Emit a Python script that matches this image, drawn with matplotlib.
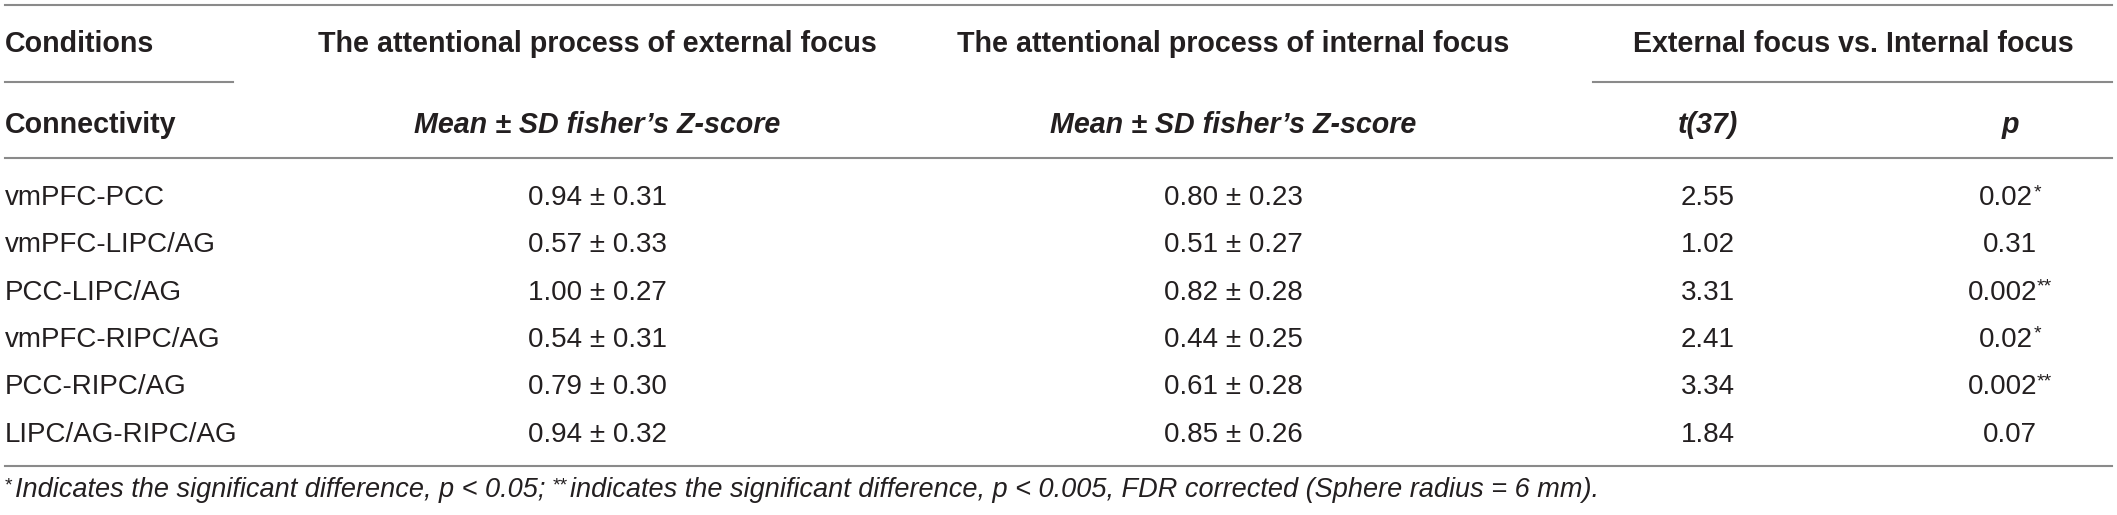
import matplotlib
matplotlib.use("Agg")
import matplotlib.pyplot as plt

# ---- data ----
connectivity = ["vmPFC-PCC", "vmPFC-LIPC/AG", "PCC-LIPC/AG",
                "vmPFC-RIPC/AG", "PCC-RIPC/AG", "LIPC/AG-RIPC/AG"]
ext_mean = [0.94, 0.57, 1.00, 0.54, 0.79, 0.94]
ext_sd = [0.31, 0.33, 0.27, 0.31, 0.30, 0.32]
int_mean = [0.80, 0.51, 0.82, 0.44, 0.61, 0.85]
int_sd = [0.23, 0.27, 0.28, 0.25, 0.28, 0.26]
t_vals = [2.55, 1.02, 3.31, 2.41, 3.34, 1.84]
p_vals = ["0.02", "0.31", "0.002", "0.02", "0.002", "0.07"]
p_stars = ["*", "", "**", "*", "**", ""]

header1 = ["Conditions", "The attentional process of external focus",
           "The attentional process of internal focus",
           "External focus vs. Internal focus"]
header2 = ["Connectivity", "Mean \u00b1 SD fisher\u2019s Z-score",
           "Mean \u00b1 SD fisher\u2019s Z-score", "t(37)", "p"]
footnote_parts = [("*", True),
                  ("Indicates the significant difference, p < 0.05; ", False),
                  ("**", True),
                  ("indicates the significant difference, p < 0.005, "
                   "FDR corrected (Sphere radius = 6 mm).", False)]

# ---- style ----
plt.rcParams["font.family"] = ["Liberation Sans", "DejaVu Sans"]

W, H = 2117, 515
fig = plt.figure(figsize=(W / 100, H / 100), dpi=100)
ax = fig.add_axes([0, 0, 1, 1])
ax.set_xlim(0, W)
ax.set_ylim(H, 0)
ax.axis("off")
renderer = fig.canvas.get_renderer()

TXT = "#231f20"
LINE = "#8a8a8a"
FS = 20
HFS = 20.6
FFS = 19.5
STAR_FS = 14

col_x = [5, 597, 1233, 1708, 2010]
row_y0, row_dy = 205, 47.3


def width(t):
    return t.get_window_extent(renderer).width


# rules
lw = 1.5
ax.plot([5, 2112], [5, 5], color=LINE, lw=lw)
ax.plot([5, 233], [82, 82], color=LINE, lw=lw)
ax.plot([1593, 2112], [82, 82], color=LINE, lw=lw)
ax.plot([5, 2112], [158, 158], color=LINE, lw=lw)
ax.plot([5, 2112], [466, 466], color=LINE, lw=lw)

# header row 1
ax.text(col_x[0], 52, header1[0], fontsize=HFS, fontweight="bold",
        color=TXT, ha="left", va="baseline")
ax.text(col_x[1], 52, header1[1], fontsize=HFS, fontweight="bold",
        color=TXT, ha="center", va="baseline")
ax.text(col_x[2], 52, header1[2], fontsize=HFS, fontweight="bold",
        color=TXT, ha="center", va="baseline")
ax.text(1853, 52, header1[3], fontsize=HFS, fontweight="bold",
        color=TXT, ha="center", va="baseline")

# header row 2
ax.text(col_x[0], 133, header2[0], fontsize=HFS, fontweight="bold",
        color=TXT, ha="left", va="baseline")
for i in range(1, 5):
    ax.text(col_x[i], 133, header2[i], fontsize=HFS, fontweight="bold",
            fontstyle="italic", color=TXT, ha="center", va="baseline")

# body
for r in range(len(connectivity)):
    y = row_y0 + r * row_dy
    ax.text(col_x[0], y, connectivity[r], fontsize=FS, color=TXT,
            ha="left", va="baseline")
    ax.text(col_x[1], y, f"{ext_mean[r]:.2f} \u00b1 {ext_sd[r]:.2f}",
            fontsize=FS, color=TXT, ha="center", va="baseline")
    ax.text(col_x[2], y, f"{int_mean[r]:.2f} \u00b1 {int_sd[r]:.2f}",
            fontsize=FS, color=TXT, ha="center", va="baseline")
    ax.text(col_x[3], y, f"{t_vals[r]:.2f}", fontsize=FS, color=TXT,
            ha="center", va="baseline")
    tm = ax.text(0, y, p_vals[r], fontsize=FS, color=TXT,
                 ha="left", va="baseline")
    wm = width(tm)
    if p_stars[r]:
        ts = ax.text(0, y - 8, p_stars[r], fontsize=STAR_FS, color=TXT,
                     ha="left", va="baseline")
        ws = width(ts)
    else:
        ts, ws = None, 0
    left = col_x[4] - (wm + ws) / 2
    tm.set_x(left)
    if ts is not None:
        ts.set_x(left + wm)

# footnote
x = 5
fy = 497
for txt, is_star in footnote_parts:
    if is_star:
        t = ax.text(x, fy - 7, txt, fontsize=STAR_FS, color=TXT,
                    ha="left", va="baseline")
    else:
        t = ax.text(x, fy, txt, fontsize=FFS, fontstyle="italic", color=TXT,
                    ha="left", va="baseline")
    x += width(t) + (2 if is_star else 0)

fig.savefig("out.png", dpi=100)
